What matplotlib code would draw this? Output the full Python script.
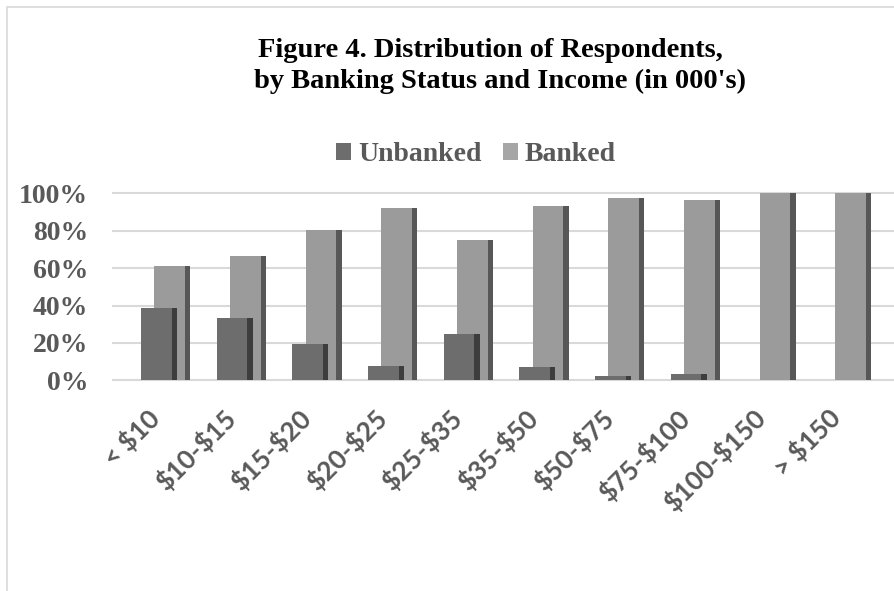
import matplotlib
matplotlib.use("Agg")
import matplotlib.pyplot as plt
from matplotlib.patches import Patch, Rectangle
from matplotlib.transforms import ScaledTranslation

# Income brackets (in thousands of dollars)
categories = ["< $10", "$10-$15", "$15-$20", "$20-$25", "$25-$35",
              "$35-$50", "$50-$75", "$75-$100", "$100-$150", "> $150"]
# Share of respondents in each bracket (%)
unbanked = [38.9, 33.5, 19.4, 7.9, 25.0, 7.0, 2.4, 3.4, 0.0, 0.0]
banked = [61.1, 66.5, 80.6, 92.1, 75.0, 93.0, 97.6, 96.6, 100.0, 100.0]
y_ticks = [0, 20, 40, 60, 80, 100]
y_tick_labels = ["0%", "20%", "40%", "60%", "80%", "100%"]

W, H = 894, 591
fig = plt.figure(figsize=(W / 100, H / 100), dpi=100)
fig.patch.set_facecolor("white")

# chart-area frame
fig.add_artist(Rectangle((7 / W, -0.05), 1.2, 1 - 7 / H + 0.05,
                         transform=fig.transFigure, fill=False,
                         edgecolor="#d9d9d9", linewidth=1.2))

ax_left, ax_right = 113 / W, 1.0
ax_bottom, ax_top = 1 - 380.3 / H, 1 - 193.3 / H
ax = fig.add_axes([ax_left, ax_bottom, ax_right - ax_left, ax_top - ax_bottom])
ax.set_facecolor("none")

unit = 75.67  # pixels per category
offset = (165.5 - 113) / unit
ax.set_xlim(-offset, (W - 113) / unit - offset)
ax.set_ylim(0, 100)

grid_color = "#d9d9d9"
for t in y_ticks:
    ax.axhline(t, color=grid_color, linewidth=1.5, zorder=0, clip_on=False)

front_w = 30.7 / unit
side_w = 5.3 / unit
x = list(range(len(categories)))

c_unb_front, c_unb_side = "#6d6d6d", "#3d3d3d"
c_bnk_front, c_bnk_side = "#9b9b9b", "#575757"

# banked columns (behind)
bx = [i + (154.3 - 165.5) / unit for i in x]
ax.bar(bx, banked, width=front_w, align="edge", color=c_bnk_front,
       linewidth=0, zorder=2)
ax.bar([v + front_w for v in bx], banked, width=side_w, align="edge",
       color=c_bnk_side, linewidth=0, zorder=2)

# unbanked columns (in front)
ux = [i + (141 - 165.5) / unit for i in x]
ax.bar(ux, unbanked, width=front_w, align="edge", color=c_unb_front,
       linewidth=0, zorder=3)
ax.bar([v + front_w for v in ux], unbanked, width=side_w, align="edge",
       color=c_unb_side, linewidth=0, zorder=3)

for s in ax.spines.values():
    s.set_visible(False)

label_color = "#595959"
ax.set_yticks(y_ticks)
ax.set_yticklabels(y_tick_labels, fontfamily="Liberation Serif",
                   fontweight="bold", fontsize=20, color=label_color)
ax.tick_params(axis="y", length=0, pad=18)

ax.set_xticks(x)
ax.set_xticklabels([c.replace("$", r"\$") for c in categories],
                   fontfamily="Lato", fontweight="bold",
                   fontsize=19, color=label_color, rotation=45,
                   ha="right", rotation_mode="anchor", va="center")
ax.tick_params(axis="x", length=0, pad=22)
shift = ScaledTranslation(-10 / 100, -3 / 100, fig.dpi_scale_trans)
for lbl in ax.get_xticklabels():
    lbl.set_transform(lbl.get_transform() + shift)

# title
fig.text(490 / W, 1 - 57 / H, "Figure 4. Distribution of Respondents,",
         ha="center", va="baseline", fontfamily="Liberation Serif",
         fontweight="bold", fontsize=20.5, color="black")
fig.text(500 / W, 1 - 88 / H, "by Banking Status and Income (in 000's)",
         ha="center", va="baseline", fontfamily="Liberation Serif",
         fontweight="bold", fontsize=20.5, color="black")

# legend
handles = [Patch(facecolor="#6d6d6d", edgecolor="none", label="Unbanked"),
           Patch(facecolor="#a6a6a6", edgecolor="none", label="Banked")]
fig.legend(handles=handles, loc="center", ncol=2,
           bbox_to_anchor=(476 / W, 1 - 155 / H), frameon=False,
           prop={"family": "Liberation Serif", "weight": "bold", "size": 20},
           labelcolor=label_color, handlelength=0.55, handleheight=0.55,
           handletextpad=0.25, columnspacing=0.75, borderpad=0)

fig.savefig("out.png", dpi=100, facecolor="white")
